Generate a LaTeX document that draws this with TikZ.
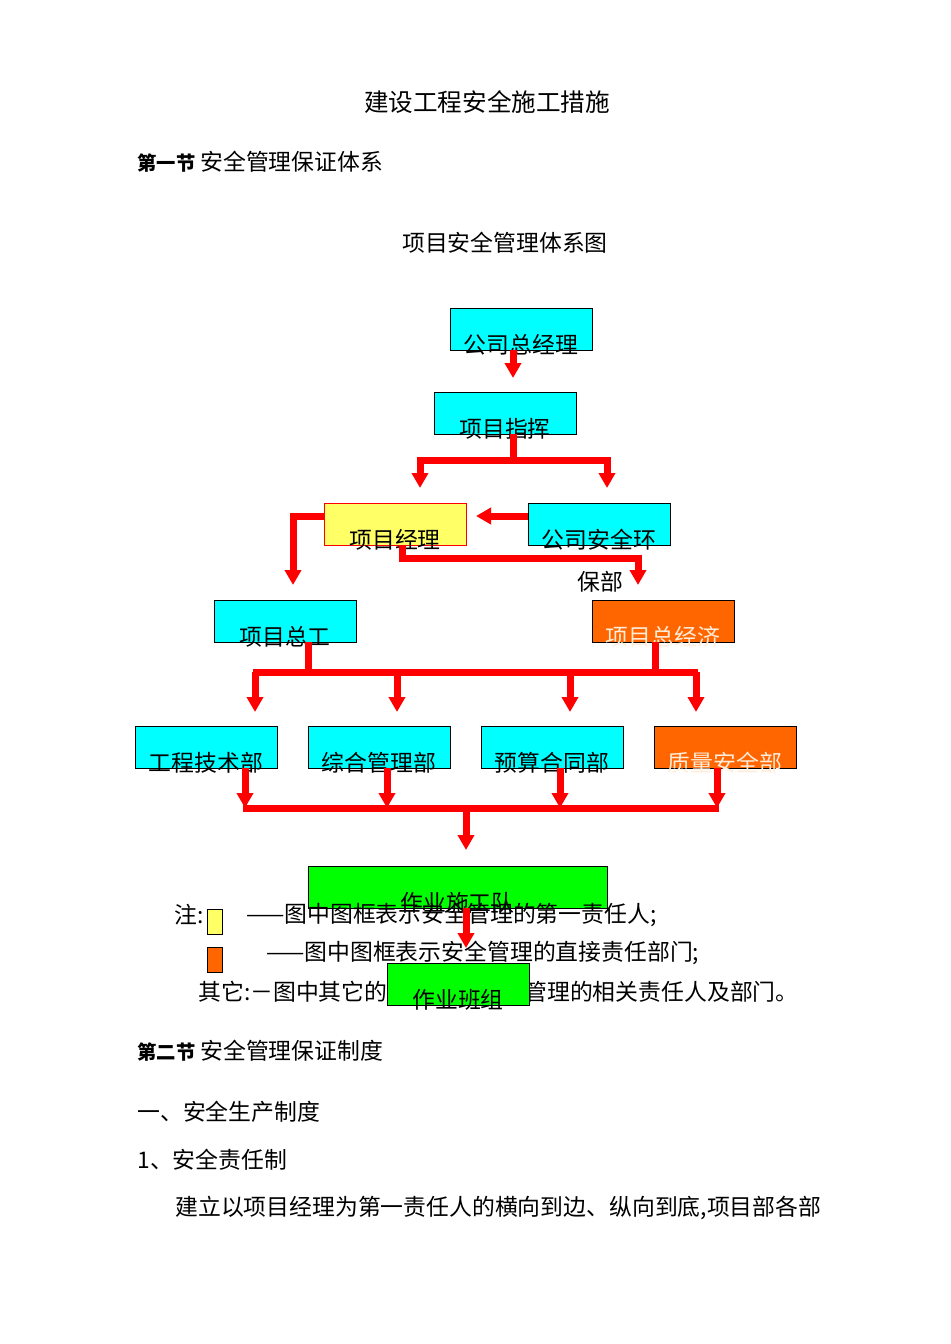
\documentclass[tikz,border=0pt]{standalone}
\usepackage{fontspec}
\newfontfamily\cjk{Noto Sans CJK SC}
\usetikzlibrary{calc}
\definecolor{boxcyan}{RGB}{0,255,255}
\definecolor{boxyellow}{RGB}{255,255,102}
\definecolor{boxorange}{RGB}{255,102,0}
\definecolor{boxgreen}{RGB}{0,255,0}
\tikzset{
  box/.style={draw=black, minimum width=2.84cm, minimum height=0.84cm, inner sep=0pt},
  boxtext/.style={font=\cjk\fontsize{13}{13}\selectfont, inner sep=0pt},
  txt/.style={font=\cjk\fontsize{13}{15}\selectfont, inner sep=0pt, anchor=west},
  arr/.style={draw=red, line width=1.4mm, -{Triangle[length=3mm,width=3.2mm]}},
  ln/.style={draw=red, line width=1.4mm},
}
\usetikzlibrary{arrows.meta}
\begin{document}
\begin{tikzpicture}[x=0.02cm,y=-0.02cm]
        \useasboundingbox (0,0) rectangle (950,1344);
        \node[font=\cjk\fontsize{14}{14}\selectfont] (title) at (487,102) {建设工程安全施工措施};
        \node[txt] (sec1) at (137,162) {{\fontsize{11}{11}\selectfont\bfseries 第一节} 安全管理保证体系};
        \node[font=\cjk\fontsize{13}{13}\selectfont] (chart) at (505,243) {项目安全管理体系图};

        % boxes
        \node[box, fill=boxcyan] (gm) at (521,329) {};
        \node[box, fill=boxcyan] (cmd) at (505,413) {};
        \node[box, fill=boxyellow, draw=red] (pm) at (395,524) {};
        \node[box, fill=boxcyan] (safe) at (599,524) {};
        \node[box, fill=boxcyan] (eng) at (285,621) {};
        \node[box, fill=boxorange] (eco) at (663,621) {};
        \node[box, fill=boxcyan] (tech) at (206,747) {};
        \node[box, fill=boxcyan] (adm) at (379,747) {};
        \node[box, fill=boxcyan] (bud) at (552,747) {};
        \node[box, fill=boxorange] (qual) at (725,747) {};
        \node[box, fill=boxgreen, minimum width=5.98cm] (team) at (457.5,887) {};

        % notes (drawn under the last box)
        \node[txt] (n0) at (174,915) {注:};
        \node[draw=black, fill=boxyellow, minimum width=0.3cm, minimum height=0.5cm, inner sep=0pt] (ky) at (214.5,922) {};
        \node[txt] (n1) at (246,915) {——图中图框表示安全管理的第一责任人;};
        \node[draw=black, fill=boxorange, minimum width=0.3cm, minimum height=0.5cm, inner sep=0pt] (ko) at (214.5,960) {};
        \node[txt] (n2) at (266,953) {——图中图框表示安全管理的直接责任部门;};
        \node[txt] (n3) at (198,992) {其它:－图中其它的图框表示安全管理的相关责任人及部门。};

        \node[box, fill=boxgreen] (crew) at (458,984) {};

        % box texts
        \foreach \b/\t in {gm/公司总经理, cmd/项目指挥, pm/项目经理, safe/公司安全环, eng/项目总工,
                           tech/工程技术部, adm/综合管理部, bud/预算合同部, team/作业施工队, crew/作业班组}
            \node[boxtext] at ($(\b.south)+(0,-6)$) {\t};
        \foreach \b/\t in {eco/项目总经济, qual/质量安全部}
            \node[boxtext, text=white!85!orange] at ($(\b.south)+(0,-6)$) {\t};
        \node[boxtext] (bb) at (600,582) {保部};

        % connectors
        \draw[arr] (513,350) -- (513,378);
        \draw[ln] (513,434) -- (513,460);
        \draw[arr] (607,460) -- (420,460) -- (420,488);
        \draw[arr] (513,460) -- (607,460) -- (607,488);
        \draw[arr] (safe.west |- 0,516) -- (476,516);
        \draw[arr] (pm.west |- 0,516) -- (293,516) -- (293,585);
        \draw[arr] (402,545) -- (402,558) -- (638,558) -- (638,585);
        \draw[ln] (308,642) -- (308,672);
        \draw[ln] (655,642) -- (655,672);
        \draw[ln] (253,672) -- (698,672);
        \foreach \x in {255,397,570,696}
            \draw[arr] (\x,672) -- (\x,712);
        \foreach \x in {245,387,560,717}
            \draw[arr] (\x,768) -- (\x,808);
        \draw[ln] (243,808) -- (719,808);
        \draw[arr] (466,808) -- (466,850);
        \draw[arr] (466,908) -- (466,948);

        \node[txt] (sec2) at (137,1051) {{\fontsize{11}{11}\selectfont\bfseries 第二节} 安全管理保证制度};
        \node[txt] (p1) at (137,1112) {一、安全生产制度};
        \node[txt] (p2) at (137,1160) {1、安全责任制};
        \node[txt] (p3) at (175,1208) {建立以项目经理为第一责任人的横向到边、纵向到底,项目部各部};
\end{tikzpicture}
\end{document}
